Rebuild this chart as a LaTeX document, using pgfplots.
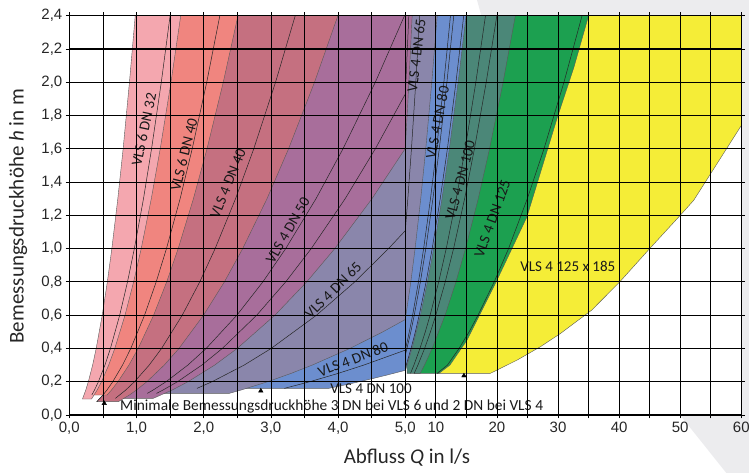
\documentclass[border=0pt]{standalone}
\usepackage{fontspec}
\setmainfont{Carlito}
\newfontfamily\arialf{Liberation Sans}
\usepackage{pgfplots}
\pgfplotsset{compat=1.18}
\definecolor{cPink}{HTML}{F4A7AF}
\definecolor{cSalmon}{HTML}{F0857F}
\definecolor{cMauve}{HTML}{C57080}
\definecolor{cPurple}{HTML}{A86E9B}
\definecolor{cGray}{HTML}{8A86AB}
\definecolor{cBlue}{HTML}{6C8ECE}
\definecolor{cTeal}{HTML}{4B8778}
\definecolor{cGreen}{HTML}{1CA050}
\definecolor{cYellow}{HTML}{F5ED37}
\definecolor{cBg}{HTML}{ECECEE}
\begin{document}
\begin{tikzpicture}
\path[use as bounding box] (-69.3pt,-58pt) rectangle (679.7pt,415pt);
\fill[cBg] (407.7pt,415pt) -- (679.7pt,415pt) -- (679.7pt,-58pt) -- (657pt,-58pt) -- (610.7pt,0pt) -- (672pt,0pt) -- (672pt,399.3pt) -- (412pt,399.3pt) -- cycle;
\begin{axis}[
  at={(0pt,0pt)}, anchor=south west,
  scale only axis, width=672pt, height=399.3pt,
  xmin=0, xmax=60, ymin=0, ymax=2.4,
  x coord trafo/.code={\pgfmathparse{(#1>5)?(5+(#1-5)/11):(#1)}},
  x coord inv trafo/.code={\pgfmathparse{(#1>5)?(5+(#1-5)*11):(#1)}},
  xtick={0,0.5,1,1.5,2,2.5,3,3.5,4,4.5,5,10,15,20,25,30,35,40,45,50,55,60},
  xticklabels={{0,0},{},{1,0},{},{2,0},{},{3,0},{},{4,0},{},{5,0},{10},{},{20},{},{30},{},{40},{},{50},{},{60}},
  ytick={0,0.2,0.4,0.6,0.8,1.0,1.2,1.4,1.6,1.8,2.0,2.2,2.4},
  yticklabels={{0,0},{0,2},{0,4},{0,6},{0,8},{1,0},{1,2},{1,4},{1,6},{1,8},{2,0},{2,2},{2,4}},
  extra y ticks={0.2,0.4,0.6,0.8,1.0,1.2,1.4,1.6,1.8,2.0,2.2},
  extra y tick labels={},
  extra y tick style={grid=major, major grid style={black, line width=1.0pt}},
  grid=major, grid style={black, line width=0.8pt},
  tick align=outside, major tick length=3.5pt,
  tick style={black, line width=0.8pt},
  axis line style={black, line width=1.2pt},
  axis on top,
  tick label style={font=\arialf\fontsize{15}{15}\selectfont, text=black!85},
  xlabel={Abfluss \textit{Q} in l/s},
  ylabel={Bemessungsdruckhöhe \textit{h} in m},
  label style={font=\fontsize{21}{21}\selectfont, text=black!85},
  xlabel style={at={(rel axis cs:0.5025,-0.1077)}, anchor=center},
  ylabel style={at={(rel axis cs:-0.0763,0.498)}, anchor=center},
]
% ---------- filled regions (largest first) ----------
% VLS 4 125 x 185
\addplot[fill=cYellow, draw=black!65, line width=0.4pt] coordinates {(10.2,0.25) (11.9,0.3) (13.8,0.4) (15.45,0.5) (16.9,0.6) (19.55,0.8) (21.9,1.0) (24.97,1.3) (27.70,1.6) (30.97,2.0) (33.93,2.4) (60,2.4) (60,1.74) (52.2,1.29) (50,1.2) (45,1.0) (40.1,0.8) (35.5,0.63) (30.4,0.49) (27.1,0.41) (23.3,0.33) (18.9,0.25)} -- cycle;
% VLS 4 DN 125
\addplot[fill=cGreen, draw=black!65, line width=0.4pt] coordinates {(6.45,0.25) (7.065,0.3) (8.159,0.4) (9.122,0.5) (9.992,0.6) (11.538,0.8) (12.9,1.0) (14.709,1.3) (16.317,1.6) (18.243,2.0) (19.985,2.4) (35.0,2.4) (32.6,2.09) (29.9,1.79) (24.9,1.19) (20,0.81) (15.1,0.45) (12.3,0.3) (10.5,0.25)} -- cycle;
% VLS 4 DN 100
\addplot[fill=cTeal, draw=black!65, line width=0.4pt] coordinates {(5.3,0.25) (5.25,0.3) (6.0,0.4) (7.3,0.6) (7.6,0.8) (8.0,1.0) (9.122,1.3) (10.119,1.6) (11.314,2.0) (12.394,2.4) (23.006,2.4) (21.001,2.0) (18.784,1.6) (16.932,1.3) (14.85,1.0) (13.282,0.8) (11.503,0.6) (9.393,0.4) (8.133,0.3) (7.425,0.25)} -- cycle;
% VLS 4 DN 80
\addplot[fill=cBlue, draw=black!65, line width=0.4pt] coordinates {(1.9,0.16) (2.124,0.2) (2.602,0.3) (3.004,0.4) (3.679,0.6) (4.248,0.8) (4.75,1.0) (5.0,1.108) (5.416,1.3) (6.008,1.6) (6.717,2.0) (7.359,2.4) (14.95,2.4) (13.647,2.0) (12.206,1.6) (11.003,1.3) (9.65,1.0) (8.631,0.8) (7.475,0.6) (6.104,0.4) (5.285,0.3) (5.0,0.2685) (4.727,0.24) (4.526,0.22) (4.316,0.2) (4.094,0.18) (3.86,0.16)} -- cycle;
% VLS 4 DN 65
\addplot[fill=cGray, draw=black!65, line width=0.4pt] coordinates {(1.161,0.13) (1.247,0.15) (1.440,0.2) (1.764,0.3) (2.037,0.4) (2.494,0.6) (2.880,0.8) (3.22,1.0) (3.671,1.3) (4.073,1.6) (4.554,2.0) (4.988,2.4) (10.225,2.4) (9.334,2.0) (8.348,1.6) (7.525,1.3) (6.6,1.0) (5.903,0.8) (5.0,0.574) (4.667,0.5) (4.175,0.4) (3.615,0.3) (3.3,0.25) (2.952,0.2) (2.556,0.15) (2.380,0.13)} -- cycle;
% VLS 4 DN 50
\addplot[fill=cPurple, draw=black!65, line width=0.4pt] coordinates {(0.686,0.1) (0.840,0.15) (0.970,0.2) (1.189,0.3) (1.373,0.4) (1.681,0.6) (1.941,0.8) (2.17,1.0) (2.474,1.3) (2.745,1.6) (3.069,2.0) (3.362,2.4) (6.119,2.4) (5.859,2.2) (5.586,2.0) (5.299,1.8) (5.0,1.602) (4.504,1.3) (3.95,1.0) (3.533,0.8) (3.060,0.6) (2.498,0.4) (2.163,0.3) (1.766,0.2) (1.530,0.15) (1.249,0.1)} -- cycle;
% VLS 4 DN 40
\addplot[fill=cMauve, draw=black!65, line width=0.4pt] coordinates {(0.409,0.08) (0.501,0.12) (0.560,0.15) (0.647,0.2) (0.792,0.3) (0.915,0.4) (1.120,0.6) (1.293,0.8) (1.446,1.0) (1.649,1.3) (1.829,1.6) (2.045,2.0) (2.240,2.4) (3.997,2.4) (3.649,2.0) (3.263,1.6) (2.942,1.3) (2.58,1.0) (2.308,0.8) (1.998,0.6) (1.632,0.4) (1.413,0.3) (1.154,0.2) (0.999,0.15) (0.894,0.12) (0.730,0.08)} -- cycle;
% VLS 6 DN 40
\addplot[fill=cSalmon, draw=black!65, line width=0.4pt] coordinates {(0.335,0.12) (0.375,0.15) (0.433,0.2) (0.530,0.3) (0.612,0.4) (0.750,0.6) (0.866,0.8) (0.968,1.0) (1.104,1.3) (1.224,1.6) (1.369,2.0) (1.500,2.4) (2.510,2.4) (2.291,2.0) (2.049,1.6) (1.847,1.3) (1.62,1.0) (1.449,0.8) (1.255,0.6) (1.025,0.4) (0.887,0.3) (0.724,0.2) (0.627,0.15) (0.561,0.12)} -- cycle;
% VLS 6 DN 32
\addplot[fill=cPink, draw=black!65, line width=0.4pt] coordinates {(0.196,0.096) (0.245,0.15) (0.283,0.2) (0.347,0.3) (0.400,0.4) (0.490,0.6) (0.566,0.8) (0.633,1.0) (0.722,1.3) (0.801,1.6) (0.895,2.0) (0.981,2.4) (1.658,2.4) (1.513,2.0) (1.353,1.6) (1.220,1.3) (1.07,1.0) (0.957,0.8) (0.829,0.6) (0.677,0.4) (0.586,0.3) (0.479,0.2) (0.414,0.15) (0.331,0.096)} -- cycle;
% ---------- characteristic lines ----------
\addplot[black!85, line width=0.5pt] coordinates {(0.335,0.12) (0.375,0.15) (0.433,0.2) (0.530,0.3) (0.612,0.4) (0.750,0.6) (0.866,0.8) (0.968,1.0) (1.104,1.3) (1.224,1.6) (1.369,2.0) (1.500,2.4)};
\addplot[black!85, line width=0.5pt] coordinates {(0.409,0.08) (0.501,0.12) (0.560,0.15) (0.647,0.2) (0.792,0.3) (0.915,0.4) (1.120,0.6) (1.293,0.8) (1.446,1.0) (1.649,1.3) (1.829,1.6) (2.045,2.0) (2.240,2.4)};
\addplot[black!85, line width=0.5pt] coordinates {(0.686,0.1) (0.840,0.15) (0.970,0.2) (1.189,0.3) (1.373,0.4) (1.681,0.6) (1.941,0.8) (2.17,1.0) (2.474,1.3) (2.745,1.6) (3.069,2.0) (3.362,2.4)};
\addplot[black!85, line width=0.5pt] coordinates {(1.161,0.13) (1.247,0.15) (1.440,0.2) (1.764,0.3) (2.037,0.4) (2.494,0.6) (2.880,0.8) (3.22,1.0) (3.671,1.3) (4.073,1.6) (4.554,2.0) (4.988,2.4)};
\addplot[black!85, line width=0.5pt] coordinates {(1.298,0.13) (1.394,0.15) (1.61,0.2) (1.972,0.3) (2.277,0.4) (2.789,0.6) (3.220,0.8) (3.6,1.0) (4.105,1.3) (4.554,1.6) (5.0,1.929) (5.091,2.0) (5.577,2.4)};
\addplot[black!85, line width=0.5pt] coordinates {(1.9,0.16) (2.124,0.2) (2.602,0.3) (3.004,0.4) (3.679,0.6) (4.248,0.8) (4.75,1.0) (5.0,1.108) (5.416,1.3) (6.008,1.6) (6.717,2.0) (7.359,2.4)};
\addplot[black!85, line width=0.5pt] coordinates {(3.2,0.16) (3.578,0.2) (4.0,0.25) (4.382,0.3) (5.0,0.39) (5.657,0.5) (6.197,0.6) (7.155,0.8) (8.0,1.0) (9.122,1.3) (10.119,1.6) (11.314,2.0) (12.394,2.4)};
\addplot[black!85, line width=0.5pt] coordinates {(5.0,0.3586) (5.904,0.5) (6.468,0.6) (7.468,0.8) (8.35,1.0) (9.521,1.3) (10.562,1.6) (11.809,2.0) (12.936,2.4)};
\addplot[black!85, line width=0.5pt] coordinates {(5.0,0.283) (5.149,0.3) (5.945,0.4) (6.647,0.5) (7.281,0.6) (8.407,0.8) (9.4,1.0) (10.718,1.3) (11.890,1.6) (13.294,2.0) (14.562,2.4)};
\addplot[black!85, line width=0.5pt] coordinates {(5.85,0.25) (6.408,0.3) (7.400,0.4) (8.273,0.5) (9.063,0.6) (10.465,0.8) (11.7,1.0) (13.340,1.3) (14.799,1.6) (16.546,2.0) (18.125,2.4)};
\addplot[black!85, line width=0.5pt] coordinates {(6.45,0.25) (7.065,0.3) (8.159,0.4) (9.122,0.5) (9.992,0.6) (11.538,0.8) (12.9,1.0) (14.709,1.3) (16.317,1.6) (18.243,2.0) (19.985,2.4)};
\addplot[black!85, line width=0.5pt] coordinates {(10.2,0.25) (11.9,0.3) (13.8,0.4) (15.45,0.5) (16.9,0.6) (19.55,0.8) (21.9,1.0) (24.97,1.3) (27.70,1.6) (30.97,2.0) (33.93,2.4)};
% minimum head markers
\addplot[only marks, mark=triangle*, mark size=2.6pt, black] coordinates {(0.52,0.07) (2.85,0.145) (14.6,0.236)};
% ---------- labels ----------
\begin{scope}[every node/.style={font=\fontsize{15}{15}\selectfont, text=black!90, inner sep=0pt}]
\node[rotate=78] at (axis cs:1.11,1.716) {VLS 6 DN 32};
\node[rotate=76] at (axis cs:1.707,1.566) {VLS 6 DN 40};
\node[rotate=68] at (axis cs:2.362,1.392) {VLS 4 DN 40};
\node[rotate=60] at (axis cs:3.254,1.11) {VLS 4 DN 50};
\node[rotate=45] at (axis cs:3.924,0.75) {VLS 4 DN 65};
\node[rotate=21] at (axis cs:4.222,0.336) {VLS 4 DN 80};
\node at (axis cs:4.49,0.156) {VLS 4 DN 100};
\node[anchor=west, font=\fontsize{15.4}{15.4}\selectfont] at (axis cs:0.754,0.054) {Minimale Bemessungsdruckhöhe 3 DN bei VLS 6 und 2 DN bei VLS 4};
\node[rotate=83] at (axis cs:6.8,2.16) {VLS 4 DN 65};
\node[rotate=79] at (axis cs:10.25,1.758) {VLS 4 DN 80};
\node[rotate=75] at (axis cs:14.0,1.41) {VLS 4 DN 100};
\node[rotate=70] at (axis cs:19.26,1.18) {VLS 4 DN 125};
\node at (axis cs:31.6,0.894) {VLS 4 125 x 185};
\end{scope}
\end{axis}
\end{tikzpicture}
\end{document}
